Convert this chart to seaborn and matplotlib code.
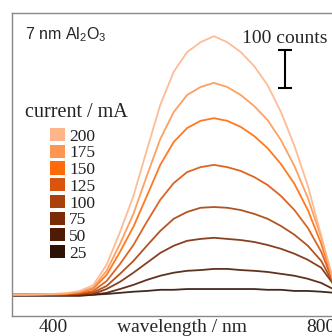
import pandas as pd
import matplotlib
matplotlib.use("Agg")
import matplotlib.pyplot as plt
import seaborn as sns
from matplotlib.patches import Patch

# spectra (counts vs wavelength in nm)
wavelength = [340, 360, 380, 400, 420, 440, 460, 480, 500, 520, 540, 560, 580,
              600, 620, 640, 660, 680, 700, 720, 740, 760, 780, 800, 820]
currents = [200, 175, 150, 125, 100, 75, 50, 25]
counts_200 = [3, 3, 4, 5, 7, 13, 28, 82, 168, 263, 384, 503, 590,
              642, 668, 684, 668, 642, 605, 555, 484, 395, 290, 158, 26]
counts_175 = [3, 3, 4, 5, 6, 10, 22, 66, 137, 216, 316, 413, 484,
              529, 550, 561, 550, 529, 500, 463, 410, 342, 258, 153, 26]
counts_150 = [3, 3, 3, 4, 5, 9, 19, 55, 116, 182, 263, 345, 405,
              442, 461, 468, 461, 445, 421, 389, 347, 295, 226, 137, 26]
counts_125 = [3, 3, 3, 3, 4, 6, 13, 39, 84, 134, 195, 253, 297,
              326, 339, 345, 339, 329, 313, 292, 263, 226, 179, 116, 26]
counts_100 = [3, 3, 3, 3, 3, 5, 9, 26, 58, 92, 132, 171, 203,
              221, 232, 234, 232, 226, 216, 203, 184, 161, 132, 92, 26]
counts_75 = [3, 3, 3, 3, 3, 3, 5, 18, 37, 61, 87, 113, 132,
             145, 150, 153, 150, 147, 142, 134, 124, 111, 95, 74, 26]
counts_50 = [3, 3, 3, 3, 3, 3, 3, 8, 18, 29, 42, 53, 61,
             66, 68, 71, 71, 68, 66, 63, 58, 53, 45, 34, 16]
counts_25 = [0, 0, 0, 0, 0, 0, 3, 5, 8, 11, 13, 16, 16,
             18, 18, 18, 18, 18, 18, 16, 16, 13, 13, 11, 8]
colors = ["#fdb58a", "#fd9650", "#ff6a08", "#d9540c",
          "#a8420a", "#7a2c08", "#4e1c06", "#2e1204"]

all_counts = [counts_200, counts_175, counts_150, counts_125,
              counts_100, counts_75, counts_50, counts_25]
rows = []
for cur, cts in zip(currents, all_counts):
    for w, c in zip(wavelength, cts):
        rows.append({"wavelength": w, "counts": c, "current": cur})
df = pd.DataFrame(rows)

sns.set_style("white")
plt.rcParams["font.family"] = ["Liberation Serif", "DejaVu Serif"]

fig = plt.figure(figsize=(3.32, 3.36), dpi=100)
ax = fig.add_axes([12 / 332, 20 / 336, 1 - 12 / 332, 303 / 336])

palette = dict(zip(currents, colors))
sns.lineplot(data=df, x="wavelength", y="counts", hue="current",
             palette=palette, legend=False, lw=1.3, alpha=0.9, ax=ax)

ax.set_xlim(339, 816)
ax.set_ylim(-53, 745)
ax.set_yticks([])
ax.set_xticks([400, 500, 600, 700, 800])
ax.set_xticklabels(["400", "", "", "", "800"], fontsize=14)
ax.tick_params(axis="x", direction="in", length=3, width=0.8,
               color="#777777", pad=2)
ax.set_ylabel("")
ax.set_xlabel("wavelength / nm", fontsize=14)
ax.xaxis.set_label_coords(0.53, -0.01)
ax.xaxis.label.set_va("top")
for side in ["left", "top", "bottom"]:
    ax.spines[side].set_color("#888888")
    ax.spines[side].set_linewidth(1.0)
ax.spines["right"].set_visible(False)

# scale bar
ax.errorbar([746], [597], yerr=[50], color="black", capsize=5,
            elinewidth=1.5, capthick=1.5)
ax.text(745, 679, "100 counts", fontsize=14, ha="center", va="center")

ax.text(0.04, 0.93, "7 nm Al$_\\mathregular{2}$O$_\\mathregular{3}$",
        transform=ax.transAxes, fontsize=11.5, family="Liberation Sans",
        ha="left", va="center")

ax.text(0.2, 0.67, "current / mA", transform=ax.transAxes, fontsize=14.5,
        ha="center", va="center", color="#222222")
handles = [Patch(facecolor=c, edgecolor="none") for c in colors]
leg = ax.legend(handles, [str(c) for c in currents],
                loc="upper left", bbox_to_anchor=(0.119, 0.62), frameon=False,
                fontsize=12.5, handlelength=0.85,
                handleheight=0.8, handletextpad=0.25, labelspacing=0.0,
                borderpad=0, borderaxespad=0)
for t in leg.get_texts():
    t.set_color("#222222")

fig.savefig("out.png", dpi=100)
